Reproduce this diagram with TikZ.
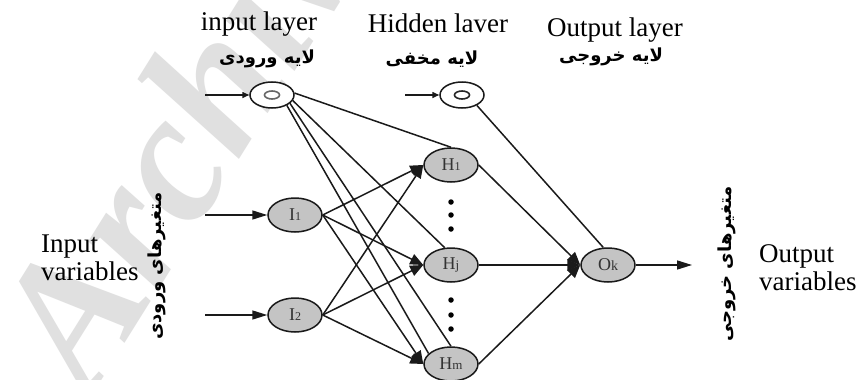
\documentclass[tikz,border=0pt]{standalone}
\usepackage{fontspec}
\setmainfont{Liberation Serif}
\newfontfamily\fa[Script=Arabic]{DejaVu Sans}
\TeXXeTstate=1
\usetikzlibrary{arrows.meta,shapes.geometric}
\definecolor{ink}{HTML}{1A1A1A}
\definecolor{nodefill}{HTML}{C4C4C4}
\definecolor{wm}{HTML}{E0E0E0}
\begin{document}
\begin{tikzpicture}[x=1pt,y=-1pt,
  neuron/.style={ellipse,draw=ink,line width=1.5pt,fill=nodefill,inner sep=0pt,
    minimum width=54pt,minimum height=34pt,font=\fontsize{18}{18}\selectfont,text=black!80},
  biasnode/.style={ellipse,draw=ink,line width=1.5pt,fill=white,inner sep=0pt,
    minimum width=44pt,minimum height=26pt},
  innerell/.style={ellipse,draw=black!60,line width=1.6pt,inner sep=0pt,
    minimum width=15pt,minimum height=8pt},
  conn/.style={draw=ink,line width=1.5pt},
  arr/.style={conn,-{Triangle[length=13pt,width=11pt]}},
  inarr/.style={conn,-{Triangle[length=15pt,width=9pt]}},
  smallarr/.style={conn,-{Triangle[length=7pt,width=6pt]}},
  lbl/.style={font=\fontsize{27}{28}\selectfont,text=black},
  falbl/.style={font=\fa\bfseries\fontsize{18}{18}\selectfont},
  vardots/.style={circle,fill=black,inner sep=0pt,minimum size=5.5pt}
]
\useasboundingbox (0,0) rectangle (862,380);
\fill[white] (0,0) rectangle (862,380);
% watermark
\node[rotate=58,text=wm,font=\fontsize{185}{185}\selectfont\bfseries\itshape] (wmk) at (195,112) {Archive};

% layer titles
\node[lbl] (tin) at (259,24) {input layer};
\node[lbl] (thid) at (438,23) {Hidden laver};
\node[lbl] (tout) at (615,30) {Output layer};
\node[falbl] (fin) at (267,59) {\beginR لایه ورودی\endR};
\node[falbl] (fhid) at (432,59) {\beginR لایه مخفی\endR};
\node[falbl] (fout) at (611,57) {\beginR لایه خروجی\endR};

% side labels
\node[lbl,align=left,anchor=west,inner sep=0pt] (invar) at (41,258) {Input\\variables};
\node[lbl,align=left,anchor=west,inner sep=0pt] (outvar) at (759,268) {Output\\variables};
\node[falbl,rotate=90] (fvin) at (157,266) {\beginR متغیرهای ورودی\endR};
\node[falbl,rotate=90] (fvout) at (727,264) {\beginR متغیرهای خروجی\endR};

% nodes
\node[biasnode] (b1) at (272,95) {};
\node[innerell] (b1i) at (272,95) {};
\node[biasnode] (b2) at (462,95) {};
\node[innerell,draw=black!85] (b2i) at (462,95) {};
\node[neuron] (I1) at (295,215) {I{\fontsize{12}{12}\selectfont 1}};
\node[neuron] (I2) at (295,315) {I{\fontsize{12}{12}\selectfont 2}};
\node[neuron] (H1) at (451,165) {H{\fontsize{12}{12}\selectfont 1}};
\node[neuron] (Hj) at (451,265) {H{\fontsize{13}{13}\selectfont j}};
\node[neuron] (Hm) at (451,364) {H{\fontsize{13}{13}\selectfont m}};
\node[neuron] (Ok) at (608,265) {O{\fontsize{14}{14}\selectfont k}};

% dots
\foreach \yy [count=\k] in {202,215,229} {\node[vardots] (da\k) at (451,\yy) {};}
\foreach \yy [count=\k] in {300,315,329} {\node[vardots] (db\k) at (451,\yy) {};}

% free ends
\coordinate (sb1) at (205,95);
\coordinate (sb2) at (405,95);
\coordinate (s1) at (205,215);
\coordinate (s2) at (205,315);
\coordinate (eo) at (692,265);

% input arrows
\draw[smallarr] (sb1) -- (b1);
\draw[smallarr] (sb2) -- (b2);
\draw[inarr] (s1) -- (I1);
\draw[inarr] (s2) -- (I2);

% bias connections
\draw[conn] (b1.5) -- (H1.north);
\draw[conn] (b1.-15) -- (Hj.110);
\draw[conn] (b1.-25) -- (Hm.north);
\draw[conn] (b1.-35) -- (Hm.155);
\draw[conn] (b2.-35) -- (Ok.105);

% input -> hidden
\foreach \i in {I1,I2} {
  \foreach \h in {H1,Hj,Hm} {
    \draw[arr] (\i.east) -- (\h.west);
  }
}
% hidden -> output
\foreach \h in {H1,Hj,Hm} {
  \draw[arr] (\h.east) -- (Ok.west);
}
\draw[inarr] (Ok.east) -- (eo);
\end{tikzpicture}
\end{document}
